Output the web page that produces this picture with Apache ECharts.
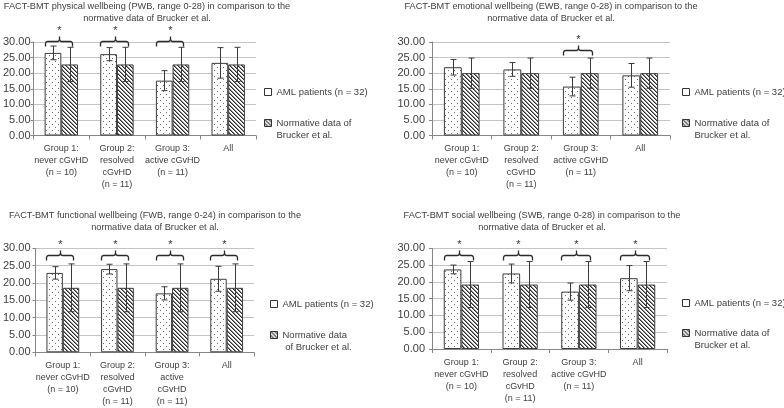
<!DOCTYPE html>
<html><head><meta charset="utf-8">
<script src="https://cdn.jsdelivr.net/npm/echarts@6/dist/echarts.min.js"></script>
<style>html,body{margin:0;padding:0;background:#fff}#c{width:784px;height:408px}</style>
</head><body><div id="c"></div>
<script>
// ---------------- data ----------------
const categories = ['Group 1:\nnever cGvHD\n(n = 10)', 'Group 2:\nresolved\ncGvHD\n(n = 11)', 'Group 3:\nactive cGvHD\n(n = 11)', 'All'];
const categoriesFWB = ['Group 1:\nnever cGvHD\n(n = 10)', 'Group 2:\nresolved\ncGvHD\n(n = 11)', 'Group 3:\nactive\ncGvHD\n(n = 11)', 'All'];
const yMin = 0, yMax = 30, yStep = 5;

const nameAML = 'AML patients (n = 32)';
const nameNorm = 'Normative data of\nBrucker et al.';
const nameNormFWB = 'Normative data\n of Brucker et al.';

const titlePWB = 'FACT-BMT physical wellbeing (PWB, range 0-28) in comparison to the\nnormative data of Brucker et al.';
const titleEWB = 'FACT-BMT emotional wellbeing (EWB, range 0-28) in comparison to the\nnormative data of Brucker et al.';
const titleFWB = 'FACT-BMT functional wellbeing (FWB, range 0-24) in comparison to the\nnormative data of Brucker et al.';
const titleSWB = 'FACT-BMT social wellbeing (SWB, range 0-28) in comparison to the\nnormative data of Brucker et al.';

const amlPWB = [26.5, 26.1, 17.6, 23.3];
const amlPWBsd = [2.2, 2.1, 3.2, 4.9];
const normPWB = [22.8, 22.8, 22.8, 22.8];
const normPWBsd = [5.5, 5.5, 5.5, 5.5];
const sigPWB = [1, 1, 1, 0];

const amlEWB = [21.9, 21.2, 15.7, 19.3];
const amlEWBsd = [2.5, 2.2, 3.0, 3.8];
const normEWB = [20.0, 20.0, 20.0, 20.0];
const normEWBsd = [4.85, 4.85, 4.85, 4.85];
const sigEWB = [0, 0, 1, 0];

const amlFWB = [22.9, 24.0, 17.0, 21.2];
const amlFWBsd = [1.8, 1.4, 1.9, 3.6];
const normFWB = [18.6, 18.6, 18.6, 18.6];
const normFWBsd = [6.9, 6.9, 6.9, 6.9];
const sigFWB = [1, 1, 1, 1];

const amlSWB = [23.7, 22.5, 17.1, 21.1];
const amlSWBsd = [1.3, 2.8, 2.55, 3.75];
const normSWB = [19.2, 19.2, 19.2, 19.2];
const normSWBsd = [6.85, 6.85, 6.85, 6.85];
const sigSWB = [1, 1, 1, 1];

// ---------------- style / layout ----------------
const FONT = '"Liberation Sans", Arial, sans-serif';
const TXT = '#404040';
const AX = '#868686';
const GAP = 0.40;

function makeDots() {
  const c = document.createElement('canvas'); c.width = 6; c.height = 6;
  const g = c.getContext('2d');
  g.fillStyle = '#fff'; g.fillRect(0, 0, 6, 6);
  g.fillStyle = '#6a6a6a'; g.fillRect(1, 1, 1, 1); g.fillRect(4, 4, 1, 1);
  return c;
}
function makeHatch() {
  const c = document.createElement('canvas'); c.width = 4; c.height = 4;
  const g = c.getContext('2d');
  g.fillStyle = '#fff'; g.fillRect(0, 0, 4, 4);
  for (let i = 0; i < 4; i++) {
    g.fillStyle = '#2e2e2e'; g.fillRect(i, i, 1, 1);
    g.fillStyle = '#8a8a8a'; g.fillRect((i + 1) % 4, i, 1, 1);
  }
  return c;
}
const dotFill = { image: makeDots(), repeat: 'repeat' };
const hatchFill = { image: makeHatch(), repeat: 'repeat' };

const panels = [
  { title: titlePWB, cats: categories, aml: amlPWB, amlSd: amlPWBsd, norm: normPWB, normSd: normPWBsd, sig: sigPWB, normName: nameNorm,
    grid: { left: 32, top: 42, width: 224, height: 93.5 }, tx: 147, ty: 0, lx: 264, ly: [86, 117], braceAt: 30.2, yMargin: 3, xMargin: 7 },
  { title: titleEWB, cats: categories, aml: amlEWB, amlSd: amlEWBsd, norm: normEWB, normSd: normEWBsd, sig: sigEWB, normName: nameNorm,
    grid: { left: 432, top: 42, width: 238, height: 93.5 }, tx: 551, ty: 0, lx: 682, ly: [86, 117], braceAt: 27.5, yMargin: 7, xMargin: 7 },
  { title: titleFWB, cats: categoriesFWB, aml: amlFWB, amlSd: amlFWBsd, norm: normFWB, normSd: normFWBsd, sig: sigFWB, normName: nameNormFWB,
    grid: { left: 33, top: 248.3, width: 221, height: 104 }, tx: 155, ty: 209, lx: 270, ly: [298, 329], braceAt: 28.1, yMargin: 5, xMargin: 7 },
  { title: titleSWB, cats: categories, aml: amlSWB, amlSd: amlSWBsd, norm: normSWB, normSd: normSWBsd, sig: sigSWB, normName: nameNorm,
    grid: { left: 432, top: 248.3, width: 235, height: 100.7 }, tx: 542, ty: 209, lx: 682, ly: [297, 327], braceAt: 28.0, yMargin: 7, xMargin: 8 }
];

function makeRender(p) {
  return function (params, api) {
    const i = api.value(0);
    const base = api.coord([i, 0]);
    const catW = api.size([1, 0])[0];
    const bw = catW * (1 - GAP) / 2;
    const st = { stroke: '#3a3a3a', lineWidth: 1 };
    const kids = [];
    const pairs = [[api.value(1), api.value(2), base[0] - bw / 2], [api.value(3), api.value(4), base[0] + bw / 2]];
    pairs.forEach(function (q) {
      const m = q[0], s = q[1], x = Math.round(q[2]) + 0.5;
      const yt = api.coord([i, m + s])[1], yb = api.coord([i, m - s])[1];
      kids.push({ type: 'line', shape: { x1: x, y1: yt, x2: x, y2: yb }, style: st });
      kids.push({ type: 'line', shape: { x1: x - 3, y1: yt, x2: x + 3, y2: yt }, style: st });
      kids.push({ type: 'line', shape: { x1: x - 3, y1: yb, x2: x + 3, y2: yb }, style: st });
    });
    if (api.value(5)) {
      const y = Math.round(api.coord([i, p.braceAt])[1]) + 0.5;
      const x0 = Math.round(base[0] - bw) + 0.5, x1 = Math.round(base[0] + bw * 0.65) + 0.5, xm = Math.round((x0 + x1) / 2) + 0.5;
      const bs = { stroke: '#2a2a2a', lineWidth: 1.3, fill: null };
      kids.push({ type: 'polyline', shape: { points: [[x0, y + 5], [x0, y + 2], [x0 + 0.7, y + 0.6], [x0 + 2, y], [xm - 2, y], [xm - 0.7, y - 0.6], [xm, y - 2], [xm, y - 5]] }, style: bs });
      kids.push({ type: 'polyline', shape: { points: [[xm, y - 2], [xm + 0.7, y - 0.6], [xm + 2, y], [x1 - 2, y], [x1 - 0.7, y + 0.6], [x1, y + 2], [x1, y + 5]] }, style: bs });
      kids.push({ type: 'text', style: { x: xm, y: y - 11, text: '*', fontSize: 11, fontFamily: FONT, fill: '#333', align: 'center', verticalAlign: 'middle' } });
    }
    return { type: 'group', children: kids };
  };
}

const option = { animation: false, backgroundColor: '#fff', title: [], grid: [], xAxis: [], yAxis: [], legend: [], series: [] };
panels.forEach(function (p, k) {
  option.title.push({ text: p.title, left: p.tx, top: p.ty, textAlign: 'center', padding: 0,
    textStyle: { fontSize: 9.2, lineHeight: 12, fontWeight: 'normal', color: TXT, fontFamily: FONT } });
  option.grid.push(Object.assign({ containLabel: false }, p.grid));
  option.xAxis.push({ type: 'category', gridIndex: k, data: p.cats,
    axisLine: { lineStyle: { color: AX } },
    axisTick: { show: true, length: 4, alignWithLabel: false, lineStyle: { color: AX } },
    axisLabel: { interval: 0, fontSize: 9, lineHeight: 12, color: TXT, margin: p.xMargin, fontFamily: FONT } });
  option.yAxis.push({ type: 'value', gridIndex: k, min: yMin, max: yMax, interval: yStep,
    axisLine: { show: true, lineStyle: { color: AX } },
    axisTick: { show: true, length: 3, lineStyle: { color: AX } },
    axisLabel: { formatter: function (v) { return v.toFixed(2); }, fontSize: 11, color: TXT, margin: p.yMargin, fontFamily: FONT },
    splitLine: { lineStyle: { color: '#c4c4c4' } } });
  option.legend.push({ data: [{ name: nameAML, icon: 'rect', itemStyle: { color: '#ffffff', borderColor: '#333333', borderWidth: 1 } }],
    left: p.lx, top: p.ly[0], padding: 0, orient: 'vertical', selectedMode: false,
    itemWidth: 7, itemHeight: 7, itemGap: 0,
    textStyle: { fontSize: 9.5, lineHeight: 12, color: TXT, fontFamily: FONT } });
  option.legend.push({ data: [{ name: p.normName, icon: 'path://M0,0h7v7h-7zM0,19', itemStyle: { color: hatchFill, borderColor: '#333333', borderWidth: 1 } }],
    left: p.lx, top: p.ly[1], padding: 0, orient: 'vertical', selectedMode: false,
    itemWidth: 7, itemHeight: 19, itemGap: 0,
    textStyle: { fontSize: 9.5, lineHeight: 12, color: TXT, fontFamily: FONT } });
  option.series.push({ type: 'bar', name: nameAML, xAxisIndex: k, yAxisIndex: k, data: p.aml, barGap: '0%', barCategoryGap: (GAP * 100) + '%',
    itemStyle: { color: dotFill, borderColor: '#3c3c3c', borderWidth: 1 } });
  option.series.push({ type: 'bar', name: p.normName, xAxisIndex: k, yAxisIndex: k, data: p.norm, barGap: '0%', barCategoryGap: (GAP * 100) + '%',
    itemStyle: { color: hatchFill, borderColor: '#3c3c3c', borderWidth: 1 } });
  option.series.push({ type: 'custom', name: 'err' + k, xAxisIndex: k, yAxisIndex: k, clip: false, z: 5,
    renderItem: makeRender(p),
    data: p.aml.map(function (v, i) { return [i, v, p.amlSd[i], p.norm[i], p.normSd[i], p.sig[i]]; }) });
});
const chart = echarts.init(document.getElementById('c'), null, { renderer: 'canvas' });
chart.setOption(option);
</script></body></html>
